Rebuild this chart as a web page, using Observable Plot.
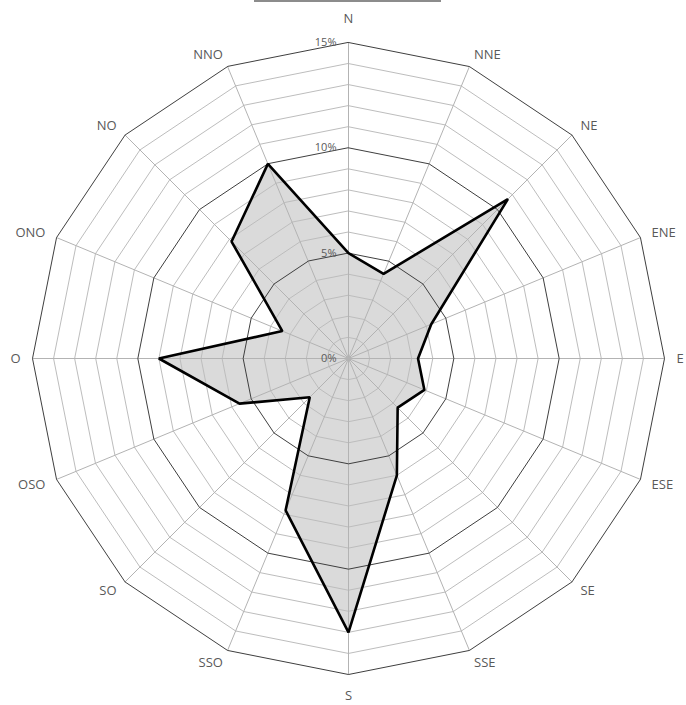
<!DOCTYPE html>
<html>
<head>
<meta charset="utf-8">
<script src="https://cdn.jsdelivr.net/npm/d3@7"></script>
<script src="https://cdn.jsdelivr.net/npm/@observablehq/plot@0.6"></script>
<style>
  html, body { margin: 0; padding: 0; background: #fff; }
  #wrap { position: relative; width: 686px; height: 705px; }
  #topline { position: absolute; left: 254px; top: 0; width: 187px; height: 2px; background: #8c8c8c; }
  svg { display: block; }
</style>
</head>
<body>
<div id="wrap"><div id="topline"></div><div id="chart"></div></div>
<script>
// Data
const directions = ["N", "NNE", "NE", "ENE", "E", "ESE", "SE", "SSE", "S", "SSO", "SO", "OSO", "O", "ONO", "NO", "NNO"];
const values = [5.0, 4.35, 10.7, 4.25, 3.3, 3.9, 3.3, 6.0, 13.0, 7.8, 2.6, 5.6, 9.0, 3.4, 7.85, 10.0];
const tickValues = [0, 5, 10, 15];
const tickLabels = ["0%", "5%", "10%", "15%"];
const maxValue = 15;

const radiusPx = 316;            // pixel radius of the outer ring
const k = maxValue / radiusPx;   // data units per pixel
const n = directions.length;
const ang = i => (i * 2 * Math.PI) / n;
const pt = (i, r) => ({ x: r * Math.sin(ang(i)), y: r * Math.cos(ang(i)) });

const series = directions.map((d, i) => ({ dir: d, value: values[i], ...pt(i, values[i]) }));

const rings = [];
for (let r = 1; r <= maxValue; r++) {
  for (let i = 0; i < n; i++) rings.push({ ring: r, major: r % 5 === 0, ...pt(i, r) });
}
const spokes = [];
directions.forEach((d, i) => {
  spokes.push({ dir: d, ...pt(i, 0) });
  spokes.push({ dir: d, ...pt(i, maxValue) });
});

// category label positions: just outside the outer vertex
const labelPos = directions.map((d, i) => {
  const s = Math.sin(ang(i)), c = Math.cos(ang(i));
  const v = pt(i, maxValue);
  const side = Math.abs(s) < 0.01 ? "mid" : (s > 0 ? "right" : "left");
  if (side === "mid") return { dir: d, side, x: v.x, y: v.y + (c > 0 ? 24 : -21) * k };
  return { dir: d, side, x: v.x + s * 12 * k, y: v.y + c * 13 * k };
});
const ticks = tickValues.map((v, i) => ({ label: tickLabels[i], x: 0, y: v }));

const labelStyle = { x: "x", y: "y", text: "dir", fill: "#595959", fontSize: 13, lineAnchor: "middle" };

const chart = Plot.plot({
  width: 686,
  height: 705,
  marginLeft: 32,
  marginRight: 22,
  marginTop: 42,
  marginBottom: 31,
  x: { domain: [-maxValue, maxValue], axis: null },
  y: { domain: [-maxValue, maxValue], axis: null },
  style: { fontFamily: "'Open Sans', sans-serif", background: "#fff" },
  marks: [
    Plot.line(series, { x: "x", y: "y", curve: "linear-closed", fill: "#dadada", stroke: "none" }),
    Plot.line(rings.filter(d => !d.major), { x: "x", y: "y", z: "ring", curve: "linear-closed", stroke: "#bdbdbd", strokeWidth: 1 }),
    Plot.line(spokes, { x: "x", y: "y", z: "dir", stroke: "#b3b3b3", strokeWidth: 1 }),
    Plot.line(rings.filter(d => d.major), { x: "x", y: "y", z: "ring", curve: "linear-closed", stroke: "#3f3f3f", strokeWidth: 1 }),
    Plot.dot([{ x: 0, y: 0 }], { x: "x", y: "y", r: 2.5, fill: "#b3b3b3" }),
    Plot.line(series, { x: "x", y: "y", curve: "linear-closed", stroke: "#000", strokeWidth: 2.6, strokeLinejoin: "miter", fill: "none" }),
    Plot.text(ticks, { x: "x", y: "y", text: "label", textAnchor: "end", dx: -12, fill: "#595959", fontSize: 11, lineAnchor: "middle" }),
    Plot.text(labelPos.filter(d => d.side === "mid"), { ...labelStyle, textAnchor: "middle" }),
    Plot.text(labelPos.filter(d => d.side === "right"), { ...labelStyle, textAnchor: "start" }),
    Plot.text(labelPos.filter(d => d.side === "left"), { ...labelStyle, textAnchor: "end" })
  ]
});
document.getElementById("chart").appendChild(chart);
</script>
</body>
</html>
